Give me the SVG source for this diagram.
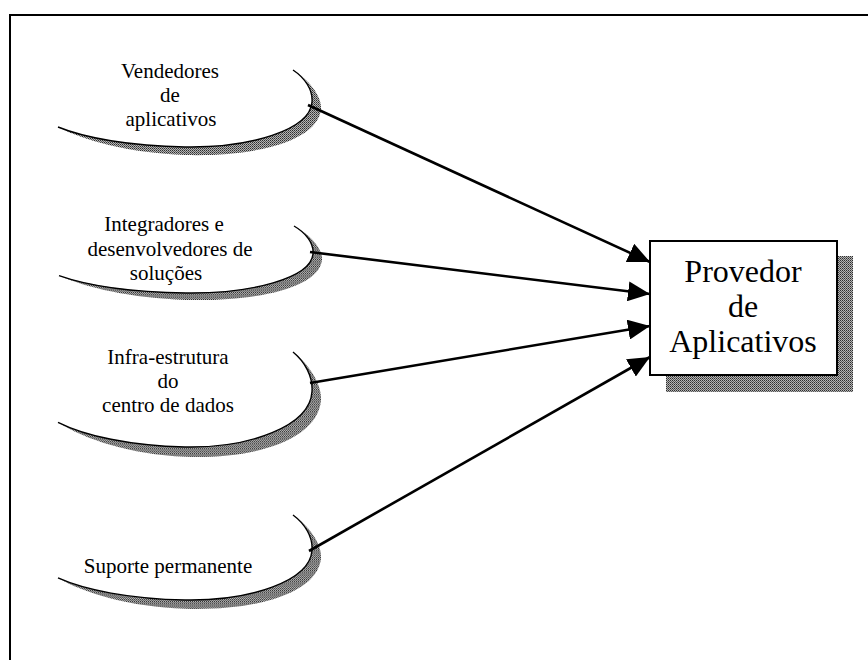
<svg xmlns="http://www.w3.org/2000/svg" width="868" height="660" viewBox="0 0 868 660">
  <defs>
    <!-- dithered grey used for the drop shadows -->
    <pattern id="dither" width="2" height="2" patternUnits="userSpaceOnUse">
      <rect width="2" height="2" fill="#b4b4b4"/>
      <rect width="1" height="1" fill="#2e2e2e"/>
      <rect x="1" y="1" width="1" height="1" fill="#5a5a5a"/>
    </pattern>
    <marker id="arrow" markerUnits="userSpaceOnUse" markerWidth="24" markerHeight="20" refX="22" refY="10" orient="auto">
      <path d="M0,0 L22,10 L0,20 Z" fill="#000"/>
    </marker>
    <!-- open ellipse with its shadow crescent -->
    <g id="oval">
      <path d="M293,70 C309,80 322,96 321,109 C318,141 256,157 185,155 C130,153 85,141 58,127 C85,138 130,146 185,147 C250,148 310,130 312,102 C313,90 305,78 293,70 Z" fill="url(#dither)"/>
      <path d="M293,70 C305,78 313,90 312,102 C310,130 250,148 185,147 C130,146 85,138 58,127" fill="none" stroke="#000" stroke-width="1.4" vector-effect="non-scaling-stroke"/>
    </g>
  </defs>
  <style>
    text { font-family: "Liberation Serif", "Times New Roman", "DejaVu Serif", serif; fill: #000; text-anchor: middle; }
    .lbl { font-size: 21px; }
    .big { font-size: 32px; }
    .conn { stroke: #000; stroke-width: 2.6; fill: none; marker-end: url(#arrow); }
  </style>

  <rect width="868" height="660" fill="#fff"/>

  <!-- frame (top and left rules) -->
  <path d="M10,660 L10,15 L868,15" fill="none" stroke="#000" stroke-width="2"/>

  <g id="vendedores">
    <use href="#oval"/>
    <text class="lbl" x="170" y="78">Vendedores</text>
    <text class="lbl" x="170" y="102">de</text>
    <text class="lbl" x="171" y="126">aplicativos</text>
  </g>

  <g id="integradores">
    <!-- y' = 226 + (y - 70) * 0.87 -->
    <use href="#oval" transform="matrix(1 0 0 0.87 1 165.1)"/>
    <text class="lbl" x="164" y="231">Integradores e</text>
    <text class="lbl" x="170" y="256">desenvolvedores de</text>
    <text class="lbl" x="166" y="280">soluções</text>
  </g>

  <g id="infraestrutura">
    <!-- y' = 352 + (y - 70) * 1.234 -->
    <use href="#oval" transform="matrix(1 0 0 1.234 0 265.6)"/>
    <text class="lbl" x="168" y="364">Infra-estrutura</text>
    <text class="lbl" x="168" y="388">do</text>
    <text class="lbl" x="168" y="412">centro de dados</text>
  </g>

  <g id="suporte">
    <!-- y' = 515 + (y - 70) * 1.104 -->
    <use href="#oval" transform="matrix(1 0 0 1.104 0 437.7)"/>
    <text class="lbl" x="168" y="573">Suporte permanente</text>
  </g>

  <g id="provedor">
    <rect x="666" y="256" width="187" height="136" fill="url(#dither)"/>
    <rect x="650" y="241" width="187" height="134" fill="#fff" stroke="#000" stroke-width="2"/>
    <text class="big" x="743" y="282">Provedor</text>
    <text class="big" x="743" y="317">de</text>
    <text class="big" x="743" y="352">Aplicativos</text>
  </g>

  <g id="connectors">
    <line class="conn" x1="308" y1="105" x2="650" y2="262"/>
    <line class="conn" x1="310" y1="252" x2="650" y2="294"/>
    <line class="conn" x1="310" y1="383" x2="650" y2="326"/>
    <line class="conn" x1="309" y1="551" x2="650" y2="357"/>
  </g>
</svg>
